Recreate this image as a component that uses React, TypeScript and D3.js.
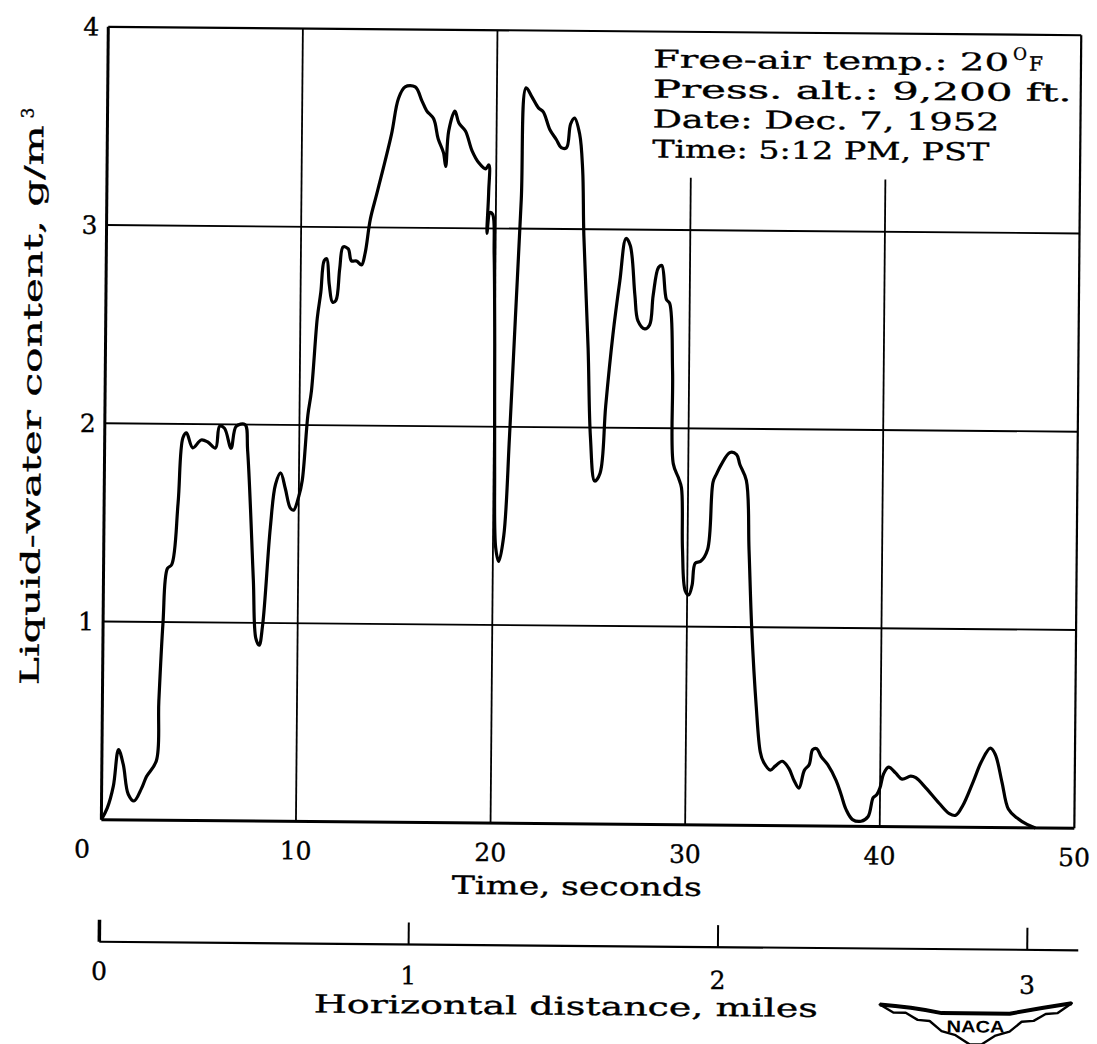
import React from "react";
import * as d3 from "d3";

// ---- data ----
const timeSec = [
  0, 0.3, 0.6, 0.85, 1.1, 1.37, 1.67, 2.05, 2.3, 2.8, 2.9, 3.08, 3.28, 3.5, 3.8, 4.02, 4.2, 4.53, 4.96, 5.3,
  5.7, 5.9, 6.15, 6.5, 6.75, 7.2, 7.35, 7.7, 7.86, 8.03, 8.2, 8.55, 8.8, 9.06, 9.3, 9.57, 9.74, 10.0, 10.17, 10.43,
  10.6, 10.87, 11.04, 11.2, 11.33, 11.47, 11.65, 11.82, 12.0, 12.17, 12.43, 12.6, 12.86, 13.12, 13.3, 13.55, 13.9, 14.6, 14.94, 15.28,
  15.8, 16.15, 16.4, 16.76, 17.0, 17.28, 17.4, 17.54, 17.85, 18.06, 18.4, 18.75, 19.1, 19.45, 19.62, 19.62, 19.55, 19.7, 19.84, 19.93,
  20.0, 20.05, 20.14, 20.3, 20.55, 20.8, 21.05, 21.3, 21.5, 21.8, 22.14, 22.39, 22.74, 23.08, 23.33, 23.6, 23.8, 24.0, 24.27, 24.44,
  24.53, 24.8, 24.96, 25.2, 25.47, 25.73, 26.07, 26.4, 26.7, 26.92, 27.18, 27.35, 27.7, 27.95, 28.12, 28.38, 28.55, 28.8, 28.97, 29.15,
  29.23, 29.5, 29.66, 29.74, 29.9, 30.08, 30.25, 30.4, 30.68, 31.03, 31.28, 31.45, 31.7, 32.14, 32.48, 32.65, 32.99, 33.16, 33.33, 33.6,
  33.83, 34.0, 34.35, 34.6, 34.96, 35.3, 35.57, 35.83, 36.1, 36.35, 36.52, 36.73, 36.96, 37.3, 37.74, 38.0, 38.26, 38.6, 39.04, 39.4,
  39.65, 39.83, 40.0, 40.17, 40.43, 40.8, 41.13, 41.57, 41.83, 42.35, 43.04, 43.57, 43.9, 44.26, 44.78, 45.2, 45.65, 45.9, 46.26, 46.6,
  47.04, 47.57, 48.0,
];
const lwcValues = [
  0, 0.06, 0.17, 0.355, 0.28, 0.13, 0.096, 0.16, 0.22, 0.3, 0.6, 1.0, 1.27, 1.29, 1.6, 1.93, 1.955, 1.88, 1.92, 1.91,
  1.88, 1.99, 1.98, 1.88, 1.99, 2.0, 1.87, 1.22, 0.92, 0.887, 0.99, 1.48, 1.7, 1.757, 1.68, 1.58, 1.57, 1.64, 1.72, 2.05,
  2.17, 2.54, 2.67, 2.83, 2.84, 2.71, 2.62, 2.63, 2.79, 2.9, 2.89, 2.83, 2.83, 2.81, 2.87, 3.04, 3.18, 3.47, 3.65, 3.71,
  3.71, 3.64, 3.59, 3.55, 3.45, 3.38, 3.31, 3.49, 3.59, 3.53, 3.49, 3.39, 3.33, 3.3, 3.32, 3.18, 2.975, 3.08, 3.07, 2.87,
  2.42, 1.8, 1.39, 1.32, 1.45, 1.95, 2.55, 3.15, 3.71, 3.665, 3.61, 3.59, 3.5, 3.45, 3.41, 3.41, 3.53, 3.56, 3.48, 3.3,
  2.97, 2.4, 1.95, 1.73, 1.77, 2.11, 2.47, 2.74, 2.955, 2.92, 2.67, 2.54, 2.5, 2.52, 2.67, 2.81, 2.82, 2.65, 2.63, 2.29,
  1.82, 1.75, 1.7, 1.39, 1.18, 1.16, 1.21, 1.32, 1.33, 1.39, 1.73, 1.77, 1.82, 1.88, 1.87, 1.82, 1.74, 1.39, 1.0, 0.6,
  0.37, 0.32, 0.28, 0.3, 0.325, 0.29, 0.23, 0.19, 0.28, 0.31, 0.385, 0.39, 0.35, 0.31, 0.23, 0.16, 0.085, 0.034, 0.026, 0.05,
  0.145, 0.16, 0.197, 0.265, 0.3, 0.27, 0.24, 0.256, 0.248, 0.197, 0.12, 0.068, 0.06, 0.11, 0.23, 0.333, 0.4, 0.37, 0.23, 0.094,
  0.05, 0.017, 0.0,
];
const timeTicks = [0, 10, 20, 30, 40, 50];
const lwcTicks = [1, 2, 3, 4];
const mileTicks = [0, 1, 2, 3];
const fullGridTimes = [10, 20];
const shortGridTimes = [30, 40];
const gridValues = [1, 2, 3];
const annotationLines = ["Press. alt.: 9,200 ft.", "Date: Dec. 7, 1952", "Time: 5:12 PM, PST"];
const annotationWidths = [419, 347, 337];

const FONT = "'DejaVu Serif', 'Liberation Serif', serif";

export default function App() {
  const W = 1097;
  const H = 1044;
  const x = d3.scaleLinear().domain([0, 50]).range([104, 1077]);
  const y = d3.scaleLinear().domain([0, 4]).range([824, 31]);
  const miles = d3.scaleLinear().domain([0, 3.165]).range([103, 1082]);

  const pts = timeSec.map((t, i) => [t, lwcValues[i]] as [number, number]);
  const line = d3
    .line<[number, number]>()
    .x((d) => x(d[0]))
    .y((d) => y(d[1]))
    .curve(d3.curveCatmullRom.alpha(0.5));

  const textStyle = { fontFamily: FONT, fill: "#000", stroke: "#000", strokeWidth: 0.35 } as any;
  const milesY = 946;
  const annX = 649;
  const annSize = 24.5;

  return (
    <svg
      width={W}
      height={H}
      style={{ position: "absolute", left: 0, top: 0, background: "#fff", display: "block" }}
    >
      <rect x={0} y={0} width={W} height={H} fill="#fff" />
      <g transform="rotate(0.5 590 520)">
        {/* horizontal grid */}
        {gridValues.map((v) => (
          <line key={"h" + v} x1={x(0)} x2={x(50)} y1={y(v)} y2={y(v)} stroke="#000" strokeWidth={1.8} />
        ))}
        {/* vertical grid */}
        {fullGridTimes.map((t) => (
          <line key={"v" + t} x1={x(t)} x2={x(t)} y1={y(4)} y2={y(0)} stroke="#000" strokeWidth={1.8} />
        ))}
        {shortGridTimes.map((t) => (
          <line key={"s" + t} x1={x(t)} x2={x(t)} y1={177} y2={y(0)} stroke="#000" strokeWidth={1.8} />
        ))}
        {/* frame */}
        <line x1={x(0)} x2={x(50)} y1={y(4)} y2={y(4)} stroke="#000" strokeWidth={2.2} />
        <line x1={x(50)} x2={x(50)} y1={y(4)} y2={y(0)} stroke="#000" strokeWidth={2.2} />
        <line x1={x(0)} x2={x(50)} y1={y(0)} y2={y(0)} stroke="#000" strokeWidth={3} />
        <line x1={x(0)} x2={x(0)} y1={y(4)} y2={y(0)} stroke="#000" strokeWidth={3} />

        {/* data curve */}
        <path d={line(pts) || ""} fill="none" stroke="#000" strokeWidth={3.2} strokeLinejoin="round" />

        {/* y tick labels */}
        {lwcTicks.map((v) => (
          <text key={"yl" + v} x={87} y={y(v) + 9} textAnchor="middle" fontSize={25} style={textStyle}>
            {v}
          </text>
        ))}
        {/* x tick labels */}
        {timeTicks.map((t) => (
          <text
            key={"xl" + t}
            x={t === 0 ? x(t) - 19 : x(t)}
            y={862}
            textAnchor="middle"
            fontSize={25}
            style={textStyle}
          >
            {t}
          </text>
        ))}
        <text
          x={580}
          y={895}
          textAnchor="middle"
          fontSize={25}
          textLength={250}
          lengthAdjust="spacingAndGlyphs"
          style={textStyle}
        >
          Time, seconds
        </text>

        {/* y axis title */}
        <g transform="translate(40,398) rotate(-90)">
          <text
            x={-12}
            y={0}
            textAnchor="middle"
            fontSize={26}
            textLength={560}
            lengthAdjust="spacingAndGlyphs"
            style={textStyle}
          >
            Liquid-water content, g/m
          </text>
          <text x={280} y={-10} textAnchor="middle" fontSize={17} style={textStyle}>
            3
          </text>
        </g>

        {/* annotation */}
        <text x={annX} y={67} fontSize={annSize} textLength={356} lengthAdjust="spacingAndGlyphs" style={textStyle}>
          Free-air temp.: 20
        </text>
        <text x={1009} y={56} fontSize={17} style={textStyle}>
          O
        </text>
        <text x={1025} y={67} fontSize={20} style={textStyle}>
          F
        </text>
        {annotationLines.map((s, i) => (
          <text
            key={"a" + i}
            x={annX}
            y={97 + i * 30}
            fontSize={annSize}
            textLength={annotationWidths[i]}
            lengthAdjust="spacingAndGlyphs"
            style={textStyle}
          >
            {s}
          </text>
        ))}

        {/* miles axis */}
        <line x1={miles(0)} x2={miles(3.165)} y1={milesY} y2={milesY} stroke="#000" strokeWidth={2.2} />
        {mileTicks.map((m) => (
          <line
            key={"mt" + m}
            x1={miles(m)}
            x2={miles(m)}
            y1={milesY}
            y2={milesY - 22}
            stroke="#000"
            strokeWidth={m === 0 ? 3.5 : 2}
          />
        ))}
        {mileTicks.map((m) => (
          <text key={"ml" + m} x={miles(m)} y={984 + m * 2} textAnchor="middle" fontSize={25} style={textStyle}>
            {m}
          </text>
        ))}
        <text
          x={570}
          y={1015}
          textAnchor="middle"
          fontSize={25}
          textLength={504}
          lengthAdjust="spacingAndGlyphs"
          style={textStyle}
        >
          Horizontal distance, miles
        </text>

        {/* NACA logo */}
        <g>
          <path
            d="M884,1002 Q915,1004 946,1010 L1014,1010 Q1045,1004 1076,999 L1062,1009 L1050,1010 L1038,1017 L1026,1018 L1014,1028 L1000,1032 L986,1041 L974,1041 L960,1032 L946,1028 L934,1018 L922,1017 L910,1010 L898,1010 Z"
            fill="#fff"
            stroke="#000"
            strokeWidth={2.4}
            strokeLinejoin="round"
          />
          <path d="M884,1002 Q915,1004 946,1010 L1014,1010 Q1045,1004 1076,999" fill="none" stroke="#000" strokeWidth={4} />
          <text
            x={980}
            y={1029}
            textAnchor="middle"
            fontSize={17}
            fontWeight="bold"
            fontFamily="'Liberation Sans', Arial, sans-serif"
            fill="#000"
            textLength={58}
            lengthAdjust="spacingAndGlyphs"
          >
            NACA
          </text>
        </g>
      </g>
    </svg>
  );
}
